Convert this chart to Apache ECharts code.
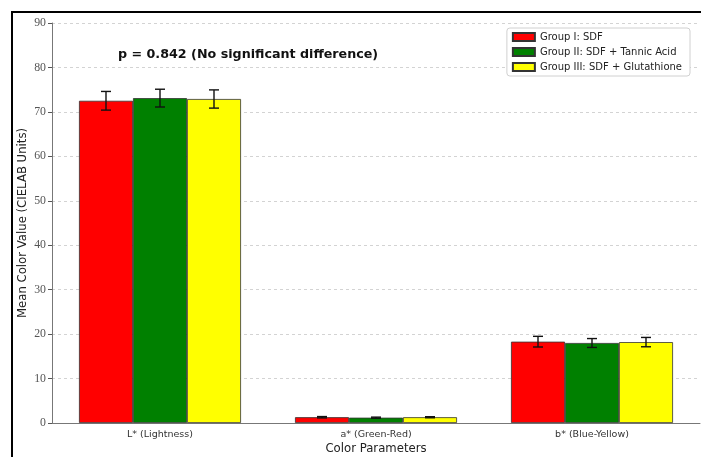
<!DOCTYPE html>
<html>
<head>
<meta charset="utf-8">
<script src="https://cdn.jsdelivr.net/npm/echarts@6/dist/echarts.min.js"></script>
<style>
  html, body { margin: 0; padding: 0; background: #fff; }
  #chart { width: 701px; height: 457px; }
</style>
</head>
<body>
<div id="chart"></div>
<script>
// Colour parameters measured in CIELAB space
const categories = ['L* (Lightness)', 'a* (Green-Red)', 'b* (Blue-Yellow)'];
const groupNames = ['Group I: SDF', 'Group II: SDF + Tannic Acid', 'Group III: SDF + Glutathione'];
const groupColors = ['#ff0000', '#008000', '#ffff00'];

// Mean values per group (L*, a*, b*)
const meansSDF = [72.5, 1.3, 18.3];
const meansTannic = [73.1, 1.2, 18.0];
const meansGlutathione = [72.9, 1.3, 18.2];

// Standard deviations per group (L*, a*, b*)
const sdSDF = [2.1, 0.15, 1.2];
const sdTannic = [2.0, 0.12, 1.0];
const sdGlutathione = [2.05, 0.12, 1.05];

const yTicks = [0, 10, 20, 30, 40, 50, 60, 70, 80, 90];
const pValueText = 'p = 0.842 (No significant difference)';

const means = [meansSDF, meansTannic, meansGlutathione];
const sds = [sdSDF, sdTannic, sdGlutathione];
const BAR_FRACTION = 0.25;

const chart = echarts.init(document.getElementById('chart'), null, { renderer: 'canvas' });

const barSeries = groupNames.map((name, g) => ({
  name: name,
  type: 'bar',
  data: means[g],
  barWidth: (BAR_FRACTION * 100) + '%',
  barGap: '0%',
  itemStyle: { color: groupColors[g], borderColor: '#333', borderWidth: 0.8 },
  z: 2
}));

// Error bars drawn on top of each bar through the axis coordinate system
const errorSeries = groupNames.map((name, g) => ({
  name: name + ' SD',
  type: 'custom',
  z: 5,
  data: means[g].map((m, i) => [i, m, sds[g][i]]),
  renderItem: function (params, api) {
    const idx = api.value(0);
    const mean = api.value(1);
    const sd = api.value(2);
    const band = api.size([1, 0])[0];
    const offset = (g - 1) * band * BAR_FRACTION;
    const hi = api.coord([idx, mean + sd]);
    const lo = api.coord([idx, mean - sd]);
    const x = hi[0] + offset;
    const cap = 5;
    const style = { stroke: '#111', lineWidth: 1.4 };
    return {
      type: 'group',
      children: [
        { type: 'line', shape: { x1: x, y1: hi[1], x2: x, y2: lo[1] }, style: style },
        { type: 'line', shape: { x1: x - cap, y1: hi[1], x2: x + cap, y2: hi[1] }, style: style },
        { type: 'line', shape: { x1: x - cap, y1: lo[1], x2: x + cap, y2: lo[1] }, style: style }
      ]
    };
  }
}));

chart.setOption({
  animation: false,
  backgroundColor: '#ffffff',
  grid: { left: 52, top: 23, width: 648, bottom: 34, outerBoundsMode: 'none', containLabel: false },
  title: {
    text: pValueText,
    left: 113,
    top: 43,
    textStyle: { fontFamily: 'DejaVu Sans', fontSize: 12.7, fontWeight: 'bold', color: '#111' }
  },
  legend: {
    data: groupNames,
    orient: 'vertical',
    right: 11,
    top: 28,
    itemWidth: 22,
    itemHeight: 8,
    itemGap: 5,
    icon: 'rect',
    padding: [4, 8, 4, 5],
    backgroundColor: '#fff',
    borderColor: '#d0d0d0',
    borderWidth: 1,
    borderRadius: 3,
    textStyle: { fontFamily: 'DejaVu Sans', fontSize: 10, color: '#222' }
  },
  xAxis: {
    type: 'category',
    data: categories,
    name: 'Color Parameters',
    nameLocation: 'middle',
    nameGap: 20,
    nameMoveOverlap: false,
    nameTextStyle: { fontFamily: 'DejaVu Sans', fontSize: 11.7, color: '#222' },
    axisLine: { lineStyle: { color: '#777', width: 1 } },
    axisTick: { alignWithLabel: true, length: 4, lineStyle: { color: '#555' } },
    axisLabel: { fontFamily: 'DejaVu Sans', fontSize: 9.5, color: '#333', margin: 7 },
    splitLine: { show: false }
  },
  yAxis: {
    type: 'value',
    min: yTicks[0],
    max: yTicks[yTicks.length - 1],
    interval: 10,
    name: 'Mean Color Value (CIELAB Units)',
    nameLocation: 'middle',
    nameGap: 23,
    nameMoveOverlap: false,
    nameTextStyle: { fontFamily: 'DejaVu Sans', fontSize: 11.7, color: '#222' },
    axisLine: { show: true, lineStyle: { color: '#777', width: 1 } },
    axisTick: { show: true, length: 4, lineStyle: { color: '#555' } },
    axisLabel: { fontFamily: 'Liberation Serif', fontSize: 11.8, color: '#555', margin: 6 },
    splitLine: { show: true, lineStyle: { color: '#c8c8c8', type: [3, 3], width: 0.8 } }
  },
  graphic: [{
    type: 'rect',
    silent: true,
    shape: { x: 12, y: 12, width: 720, height: 480 },
    style: { fill: 'none', stroke: '#000', lineWidth: 2 },
    z: 100
  }],
  series: barSeries.concat(errorSeries)
});
</script>
</body>
</html>
